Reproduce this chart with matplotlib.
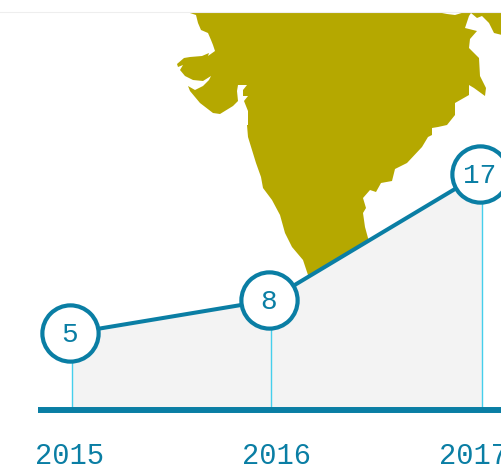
import matplotlib
matplotlib.use("Agg")
import matplotlib.pyplot as plt

# Values as printed on the chart
years = ["2015", "2016", "2017"]
value_labels = ["5", "8", "17"]

# Where the points sit on the (unevenly spaced) axes
year_pos = [2015.0, 2016.0, 2017.06]
value_pos = [5.49, 7.88, 17.0]
label_pos = [2015.0, 2016.04, 2017.03]

# Outline of the map, in picture pixels
map_x = [187, 196, 198, 201, 208, 211, 213, 215, 208, 209, 202, 190, 184, 177, 178, 183, 180,
         185, 193, 203, 211, 209, 203, 195, 188, 190, 200, 213, 220, 233, 238, 237, 238, 247,
         243, 243, 248, 244, 248, 248, 247, 248, 252, 256, 261, 263, 272, 280, 285, 292, 303,
         308, 310, 370, 368, 365, 363, 366, 363, 370, 376, 381, 392, 395, 407, 422, 428, 432,
         432, 438, 447, 455, 455, 469, 469, 474, 485, 486, 480, 479, 469, 470, 477, 465, 469,
         471, 477, 482, 489, 494, 502, 502, 465, 455, 447, 437]
map_y = [12, 15, 23, 30, 33, 40, 45, 51, 56, 53, 56, 57, 58, 64, 67, 65, 70,
         76, 80, 81, 76, 80, 86, 90, 86, 91, 103, 113, 114, 106, 101, 91, 85, 85,
         90, 96, 96, 101, 111, 125, 125, 137, 150, 163, 177, 188, 200, 215, 233, 247, 260,
         275, 280, 243, 238, 227, 213, 208, 198, 190, 192, 183, 181, 169, 163, 147, 137, 135,
         128, 127, 125, 115, 103, 95, 85, 88, 96, 88, 76, 58, 48, 39, 31, 28, 16,
         13, 18, 16, 23, 33, 35, 12, 12, 15, 14, 12]

blue = "#0a7ea4"
light_blue = "#45cfec"
olive = "#b5a800"

fig = plt.figure(figsize=(5.02, 4.72), dpi=100)

# Map sits in its own axes using picture pixels
ax_map = fig.add_axes([0, 0, 1, 1], zorder=1)
ax_map.set_xlim(0, 502)
ax_map.set_ylim(472, 0)
ax_map.axis("off")
ax_map.fill(map_x, map_y, color=olive, linewidth=0)
ax_map.plot([0, 502], [11.5, 11.5], color="#eeeeee", linewidth=0.8)

# Data axes, only the part of the chart down to the baseline
ax = fig.add_axes([0, 62.5 / 472, 1, 1 - 62.5 / 472], zorder=2)
ax.patch.set_alpha(0)
ax.set_xlim(2015 - 70 / 199, 2015 + (502 - 70) / 199)
ax.set_ylim(0, 409.5 / 13.85)
ax.axis("off")

# Grey area and drop lines start just right of the circle centres
drop_x = [x + 2 / 199 for x in year_pos]
fill_x = [drop_x[0], year_pos[1], drop_x[2]]
fill_y = [value_pos[0] - 0.1, value_pos[1], value_pos[2]]
ax.fill_between(fill_x, fill_y, 0, color="#f3f3f3", linewidth=0, zorder=1)

ax.vlines(drop_x, 0, value_pos, color=light_blue, linewidth=1.0, zorder=2)
ax.plot(year_pos, value_pos, color=blue, linewidth=2.9, zorder=3)
ax.plot([2015 - 32 / 199, 2015 + 432 / 199], [0, 0], color=blue, linewidth=4.3,
        solid_capstyle="butt", clip_on=False, zorder=4)
ax.plot(year_pos, value_pos, linestyle="none", marker="o", markersize=40.5,
        markerfacecolor="white", markeredgecolor=blue, markeredgewidth=3.0, zorder=5)

for x, y, label in zip(year_pos, value_pos, value_labels):
    ax.annotate(label, (x, y), xytext=(0, 0.8), textcoords="offset points", ha="center",
                va="center_baseline", color=blue, fontsize=20,
                family="Liberation Mono", zorder=6)

for x, label in zip(label_pos, years):
    ax.annotate(label, (x, 0), xytext=(0, -39.5), textcoords="offset points",
                ha="center", va="baseline", color=blue, fontsize=20.7,
                family="Liberation Mono", annotation_clip=False)

fig.savefig("out.png", dpi=100)
